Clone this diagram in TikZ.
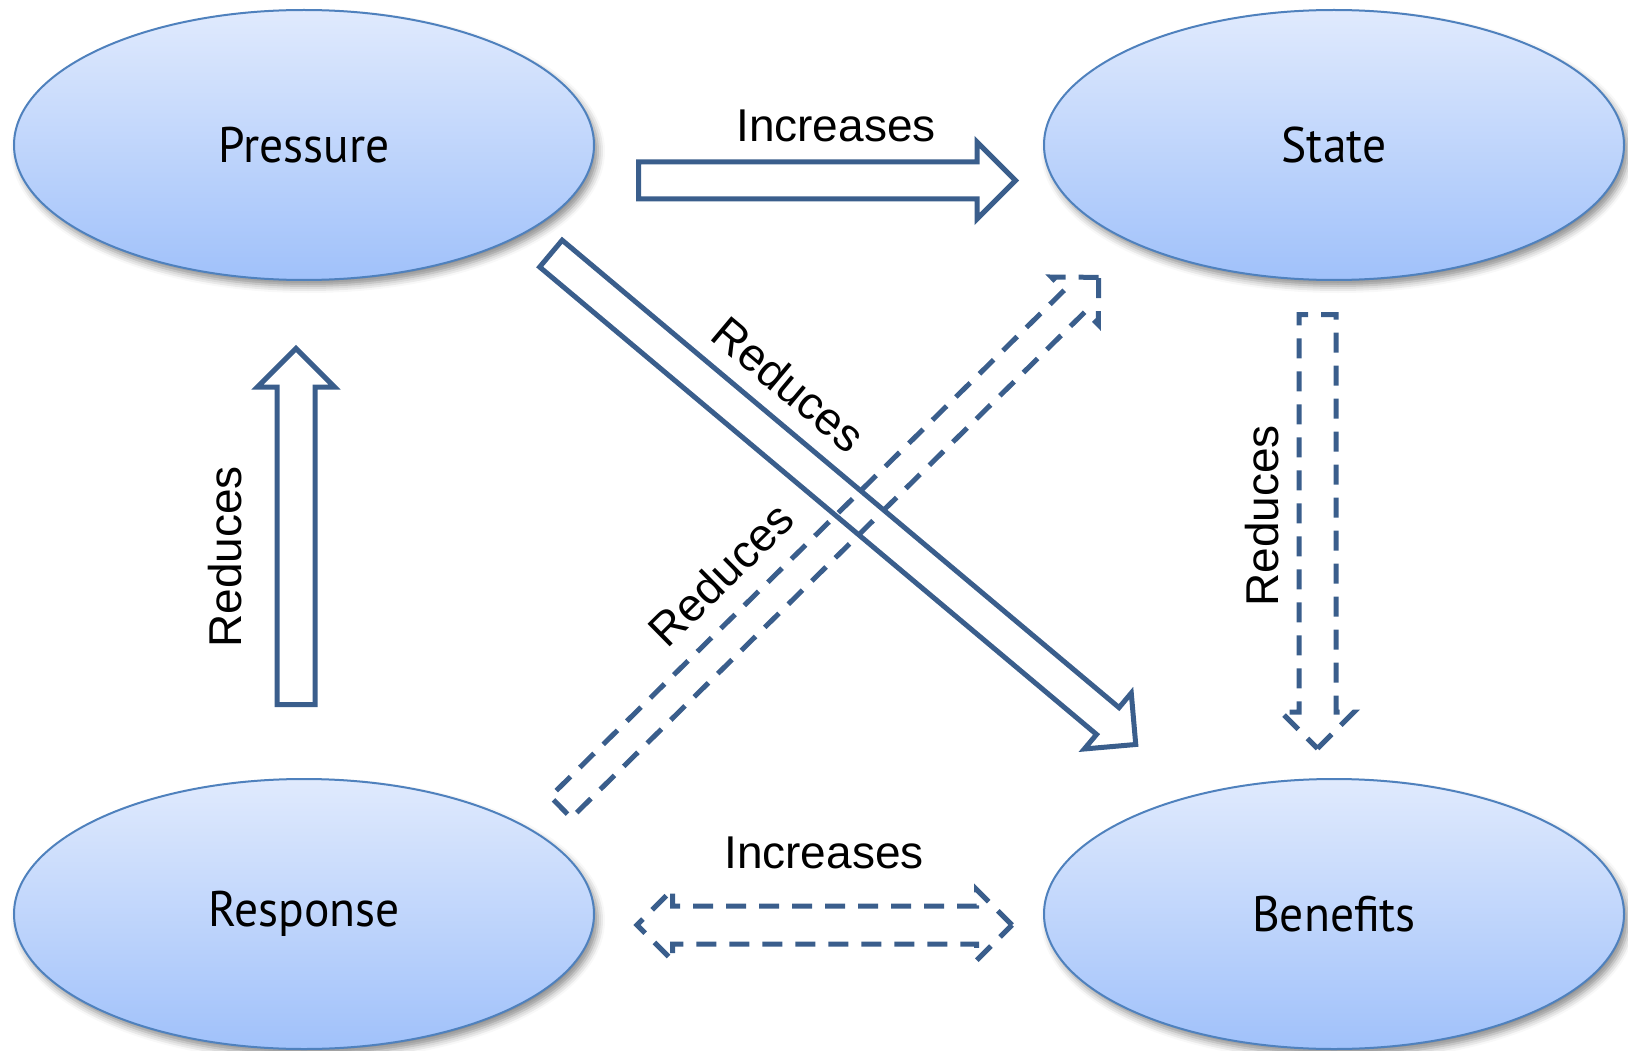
\documentclass[tikz,border=0pt]{standalone}
\usepackage{fontspec}
\setmainfont{Liberation Sans}
\newfontfamily\ellfont[FakeStretch=0.95]{PT Sans}
\usetikzlibrary{calc,shapes.geometric,shapes.arrows,shadows.blur}
\definecolor{arrowblue}{RGB}{58,94,140}
\definecolor{ellline}{RGB}{79,129,189}
\definecolor{elltop}{RGB}{224,234,253}
\definecolor{ellbot}{RGB}{160,193,250}

\begin{document}
\begin{tikzpicture}[x=1pt,y=-1pt,
    phase/.style={ellipse,draw=ellline,line width=2pt,top color=elltop,bottom color=ellbot,
      minimum width=580pt,minimum height=270pt,inner sep=0pt,
      font=\ellfont\fontsize{50}{60}\selectfont,
      blur shadow={shadow xshift=4pt,shadow yshift=-6pt,shadow blur radius=7pt,shadow opacity=45}},
    fat/.style={single arrow,draw=arrowblue,line width=5pt,inner sep=0pt,single arrow tip angle=90,anchor=tail},
    fatdash/.style={fat,dash pattern=on 20pt off 13pt},
    lbl/.style={font=\fontsize{46}{55}\selectfont,inner sep=0pt}]
  \useasboundingbox (0,0) rectangle (1628,1051);

  \node[phase] (pressure) at (304,145) {Pressure};
  \node[phase] (state) at (1334,145) {State};
  \node[phase] (response) at (304,914) {Response};
  \node[phase] (benefits) at (1334,914) {Benefits};

  \coordinate (ps1) at (636,180.5);   \coordinate (ps2) at (1013,180.5);
  \coordinate (rp1) at (296,707);     \coordinate (rp2) at (296,351);
  \coordinate (pb1) at (549,252);     \coordinate (pb2) at (1134,743);
  \coordinate (rs1) at (559,809);     \coordinate (rs2) at (1097,279);
  \coordinate (sb1) at (1317.5,312);  \coordinate (sb2) at (1317.5,746);
  \coordinate (rb1) at (637,925);     \coordinate (rb2) at (1012,925);

  \path let \p1=($(ps2)-(ps1)$), \n1={atan2(\y1,\x1)}, \n2={veclen(\x1,\y1)} in
    node[fat,rotate=\n1,minimum height=\n2,inner ysep=16pt,single arrow head extend=20pt] (psarrow) at (ps1) {};
  \path let \p1=($(rp2)-(rp1)$), \n1={atan2(\y1,\x1)}, \n2={veclen(\x1,\y1)} in
    node[fat,rotate=\n1,minimum height=\n2,inner ysep=16.5pt,single arrow head extend=19.5pt] (rparrow) at (rp1) {};
  \path let \p1=($(pb2)-(pb1)$), \n1={atan2(\y1,\x1)}, \n2={veclen(\x1,\y1)} in
    node[fat,rotate=\n1,minimum height=\n2,inner ysep=15pt,single arrow head extend=19pt] (pbarrow) at (pb1) {};
  \path let \p1=($(rs2)-(rs1)$), \n1={atan2(\y1,\x1)}, \n2={veclen(\x1,\y1)} in
    node[fatdash,rotate=\n1,minimum height=\n2,inner ysep=12.5pt,single arrow head extend=18.5pt] (rsarrow) at (rs1) {};
  \path let \p1=($(sb2)-(sb1)$), \n1={atan2(\y1,\x1)}, \n2={veclen(\x1,\y1)} in
    node[fatdash,rotate=\n1,minimum height=\n2,inner ysep=16pt,single arrow head extend=18pt] (sbarrow) at (sb1) {};
  \node[double arrow,draw=arrowblue,line width=5pt,inner sep=0pt,inner ysep=16.5pt,dash pattern=on 20pt off 13pt,
    double arrow tip angle=90,minimum height=375pt,double arrow head extend=16.5pt]
    (rbarrow) at ($(rb1)!0.5!(rb2)$) {};

  \node[lbl] (incr1) at (836,126) {Increases};
  \node[lbl] (incr2) at (824,853) {Increases};
  \node[lbl,rotate=90] (red1) at (225,557) {Reduces};
  \node[lbl,rotate=90] (red2) at (1262,516) {Reduces};
  \node[lbl,rotate=-40] (red3) at (789,384) {Reduces};
  \node[lbl,rotate=44.6] (red4) at (721,574) {Reduces};
\end{tikzpicture}
\end{document}
